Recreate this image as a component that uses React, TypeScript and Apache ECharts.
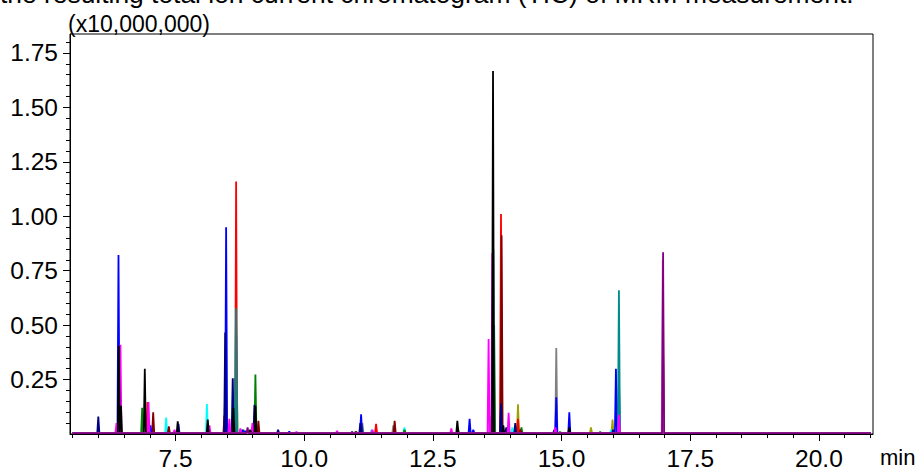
import React, { useEffect, useRef } from "react";
import * as echarts from "echarts";

// ---- data (time in min, intensity in x10,000,000) ----
const xRange = [5.45, 21.05];
const yRange = [0, 1.837];
const xMajorTicks = [7.5, 10.0, 12.5, 15.0, 17.5, 20.0];
const xMinorTicks = [5.5, 6, 6.5, 7, 8, 8.5, 9, 9.5, 10.5, 11, 11.5, 12, 13, 13.5, 14, 14.5, 15.5, 16, 16.5, 17, 18, 18.5, 19, 19.5, 20.5, 21];
const yMajorTicks = [0.25, 0.5, 0.75, 1.0, 1.25, 1.5, 1.75];
const yMinorTicks = [0.05, 0.1, 0.15, 0.2, 0.3, 0.35, 0.4, 0.45, 0.55, 0.6, 0.65, 0.7, 0.8, 0.85, 0.9, 0.95, 1.05, 1.1, 1.15, 1.2, 1.3, 1.35, 1.4, 1.45, 1.55, 1.6, 1.65, 1.7, 1.8];

const title = "the resulting total ion current chromatogram (TIC) of MRM measurement.";
const yUnit = "(x10,000,000)";
const xUnit = "min";

// peaks per trace: [retention time, apex intensity]
const bluePeaks: [number, number][] = [[6.392, 0.822], [7.013, 0.04], [7.557, 0.047], [8.483, 0.95], [8.8, 0.02], [8.86, 0.015], [9.71, 0.012], [11.105, 0.09], [13.213, 0.07], [13.285, 0.02], [14.897, 0.169], [15.15, 0.1], [16.056, 0.3], [16.114, 0.247]];
const navyPeaks: [number, number][] = [[6.0, 0.08], [8.465, 0.466], [8.611, 0.256], [9.033, 0.134], [9.493, 0.02], [10.93, 0.01], [11.09, 0.05], [13.823, 0.14], [13.926, 0.03], [14.1, 0.05], [14.858, 0.02], [16.0, 0.02]];
const blackPeaks: [number, number][] = [[6.398, 0.405], [6.44, 0.13], [6.903, 0.3], [7.543, 0.058], [8.126, 0.066], [8.625, 0.12], [8.95, 0.02], [9.052, 0.13], [12.975, 0.061], [13.668, 1.667], [13.868, 0.04], [15.15, 0.03], [16.97, 0.413]];
const magentaPeaks: [number, number][] = [[6.353, 0.05], [6.43, 0.41], [6.975, 0.147], [7.48, 0.02], [8.159, 0.04], [8.547, 0.07], [8.76, 0.025], [8.994, 0.05], [9.85, 0.01], [10.638, 0.015], [11.324, 0.02], [12.858, 0.025], [13.582, 0.436], [13.655, 0.831], [13.971, 0.097], [14.88, 0.03], [16.114, 0.088]];
const redPeaks: [number, number][] = [[6.955, 0.147], [8.677, 1.16], [9.08, 0.03], [11.396, 0.047], [13.823, 1.01], [14.153, 0.07]];
const darkRedPeaks: [number, number][] = [[7.066, 0.1], [7.37, 0.035], [8.45, 0.085], [9.11, 0.06], [11.01, 0.01], [11.757, 0.06], [13.835, 0.913], [14.2, 0.02]];
const greenPeaks: [number, number][] = [[6.852, 0.12], [8.468, 0.24], [8.82, 0.02], [9.052, 0.273], [11.0, 0.012], [11.12, 0.04], [11.95, 0.02], [12.985, 0.03], [13.69, 0.5], [14.22, 0.03], [14.97, 0.01], [15.75, 0.01]];
const tealPeaks: [number, number][] = [[8.675, 0.578], [13.675, 0.85], [16.114, 0.66]];
const cyanPeaks: [number, number][] = [[7.318, 0.076], [8.11, 0.138], [8.683, 0.45], [11.31, 0.02], [11.946, 0.03], [14.043, 0.03], [15.965, 0.02]];
const olivePeaks: [number, number][] = [[8.69, 0.22], [14.153, 0.137], [15.571, 0.03], [15.99, 0.066]];
const grayPeaks: [number, number][] = [[8.644, 0.256], [11.13, 0.05], [11.732, 0.04], [13.615, 0.08], [13.85, 0.04], [14.897, 0.395], [16.12, 0.02]];
const orchidPeaks: [number, number][] = [[16.965, 0.8]];
const purplePeaks: [number, number][] = [[8.9, 0.03], [16.972, 0.835]];

const traces: { name: string; color: string; peaks: [number, number][] }[] = [
  { name: "gray", color: "#808080", peaks: grayPeaks },
  { name: "olive", color: "#a0a000", peaks: olivePeaks },
  { name: "cyan", color: "#00ffff", peaks: cyanPeaks },
  { name: "green", color: "#008000", peaks: greenPeaks },
  { name: "red", color: "#ff0000", peaks: redPeaks },
  { name: "darkred", color: "#800000", peaks: darkRedPeaks },
  { name: "blue", color: "#0000ff", peaks: bluePeaks },
  { name: "navy", color: "#000080", peaks: navyPeaks },
  { name: "teal", color: "#008b8b", peaks: tealPeaks },
  { name: "magenta", color: "#ff00ff", peaks: magentaPeaks },
  { name: "black", color: "#000000", peaks: blackPeaks },
  { name: "orchid", color: "#c77dc7", peaks: orchidPeaks },
  { name: "purple", color: "#800080", peaks: purplePeaks },
];

const HALF_WIDTH = 0.02;

function buildTrace(peaks: [number, number][]): [number, number][] {
  const sorted = [...peaks].sort((a, b) => a[0] - b[0]);
  const pts: [number, number][] = [[5.5, 0.004]];
  for (const [t, h] of sorted) {
    pts.push([t - HALF_WIDTH, 0.004], [t, h], [t + HALF_WIDTH, 0.004]);
  }
  pts.push([21.0, 0.004]);
  return pts;
}

const FONT = "'Liberation Sans', Arial, sans-serif";

export default function App() {
  const ref = useRef<HTMLDivElement>(null);
  useEffect(() => {
    if (!ref.current) return;
    const chart = echarts.init(ref.current, undefined, { renderer: "svg" });
    const fmt = (v: number) => v.toFixed(2);
    chart.setOption({
      animation: false,
      backgroundColor: "#ffffff",
      grid: { left: 70, right: 46, top: 34, bottom: 31.5, show: true, borderColor: "#000", borderWidth: 1, backgroundColor: "transparent" },
      xAxis: [
        {
          type: "value", min: xRange[0], max: xRange[1],
          axisLine: { show: true, lineStyle: { color: "#000", width: 1 } },
          axisTick: { show: true, customValues: xMajorTicks, length: 7, lineStyle: { color: "#000" } },
          axisLabel: { show: true, customValues: xMajorTicks, formatter: (v: number) => v.toFixed(1), color: "#000", fontSize: 24.5, fontFamily: FONT, margin: 12 },
          splitLine: { show: false },
        },
        {
          type: "value", min: xRange[0], max: xRange[1], position: "bottom",
          axisLine: { show: false },
          axisTick: { show: true, customValues: xMinorTicks, length: 4, lineStyle: { color: "#000" } },
          axisLabel: { show: false },
          splitLine: { show: false },
        },
      ],
      yAxis: [
        {
          type: "value", min: yRange[0], max: yRange[1],
          axisLine: { show: true, lineStyle: { color: "#000", width: 1 } },
          axisTick: { show: true, customValues: yMajorTicks, length: 7, lineStyle: { color: "#000" } },
          axisLabel: { show: true, customValues: yMajorTicks, formatter: fmt, color: "#000", fontSize: 24.5, fontFamily: FONT, margin: 12 },
          splitLine: { show: false },
        },
        {
          type: "value", min: yRange[0], max: yRange[1], position: "left",
          axisLine: { show: false },
          axisTick: { show: true, customValues: yMinorTicks, length: 4, lineStyle: { color: "#000" } },
          axisLabel: { show: false },
          splitLine: { show: false },
        },
      ],
      graphic: [
        { type: "text", left: 0, top: -19, style: { text: title, font: `26.4px ${FONT}`, fill: "#000" } },
        { type: "text", left: 68, top: 12, style: { text: yUnit, font: `23px ${FONT}`, fill: "#000" } },
        { type: "text", left: 880, top: 446, style: { text: xUnit, font: `22px ${FONT}`, fill: "#000" } },
      ],
      series: traces.map((tr) => ({
        name: tr.name,
        type: "line",
        xAxisIndex: 0,
        yAxisIndex: 0,
        data: buildTrace(tr.peaks),
        showSymbol: false,
        symbol: "none",
        silent: true,
        lineStyle: { color: tr.color, width: 1.8 },
        clip: true,
      })),
    });
    return () => chart.dispose();
  }, []);
  return <div ref={ref} style={{ position: "absolute", left: 0, top: 0, width: 919, height: 471 }} />;
}
